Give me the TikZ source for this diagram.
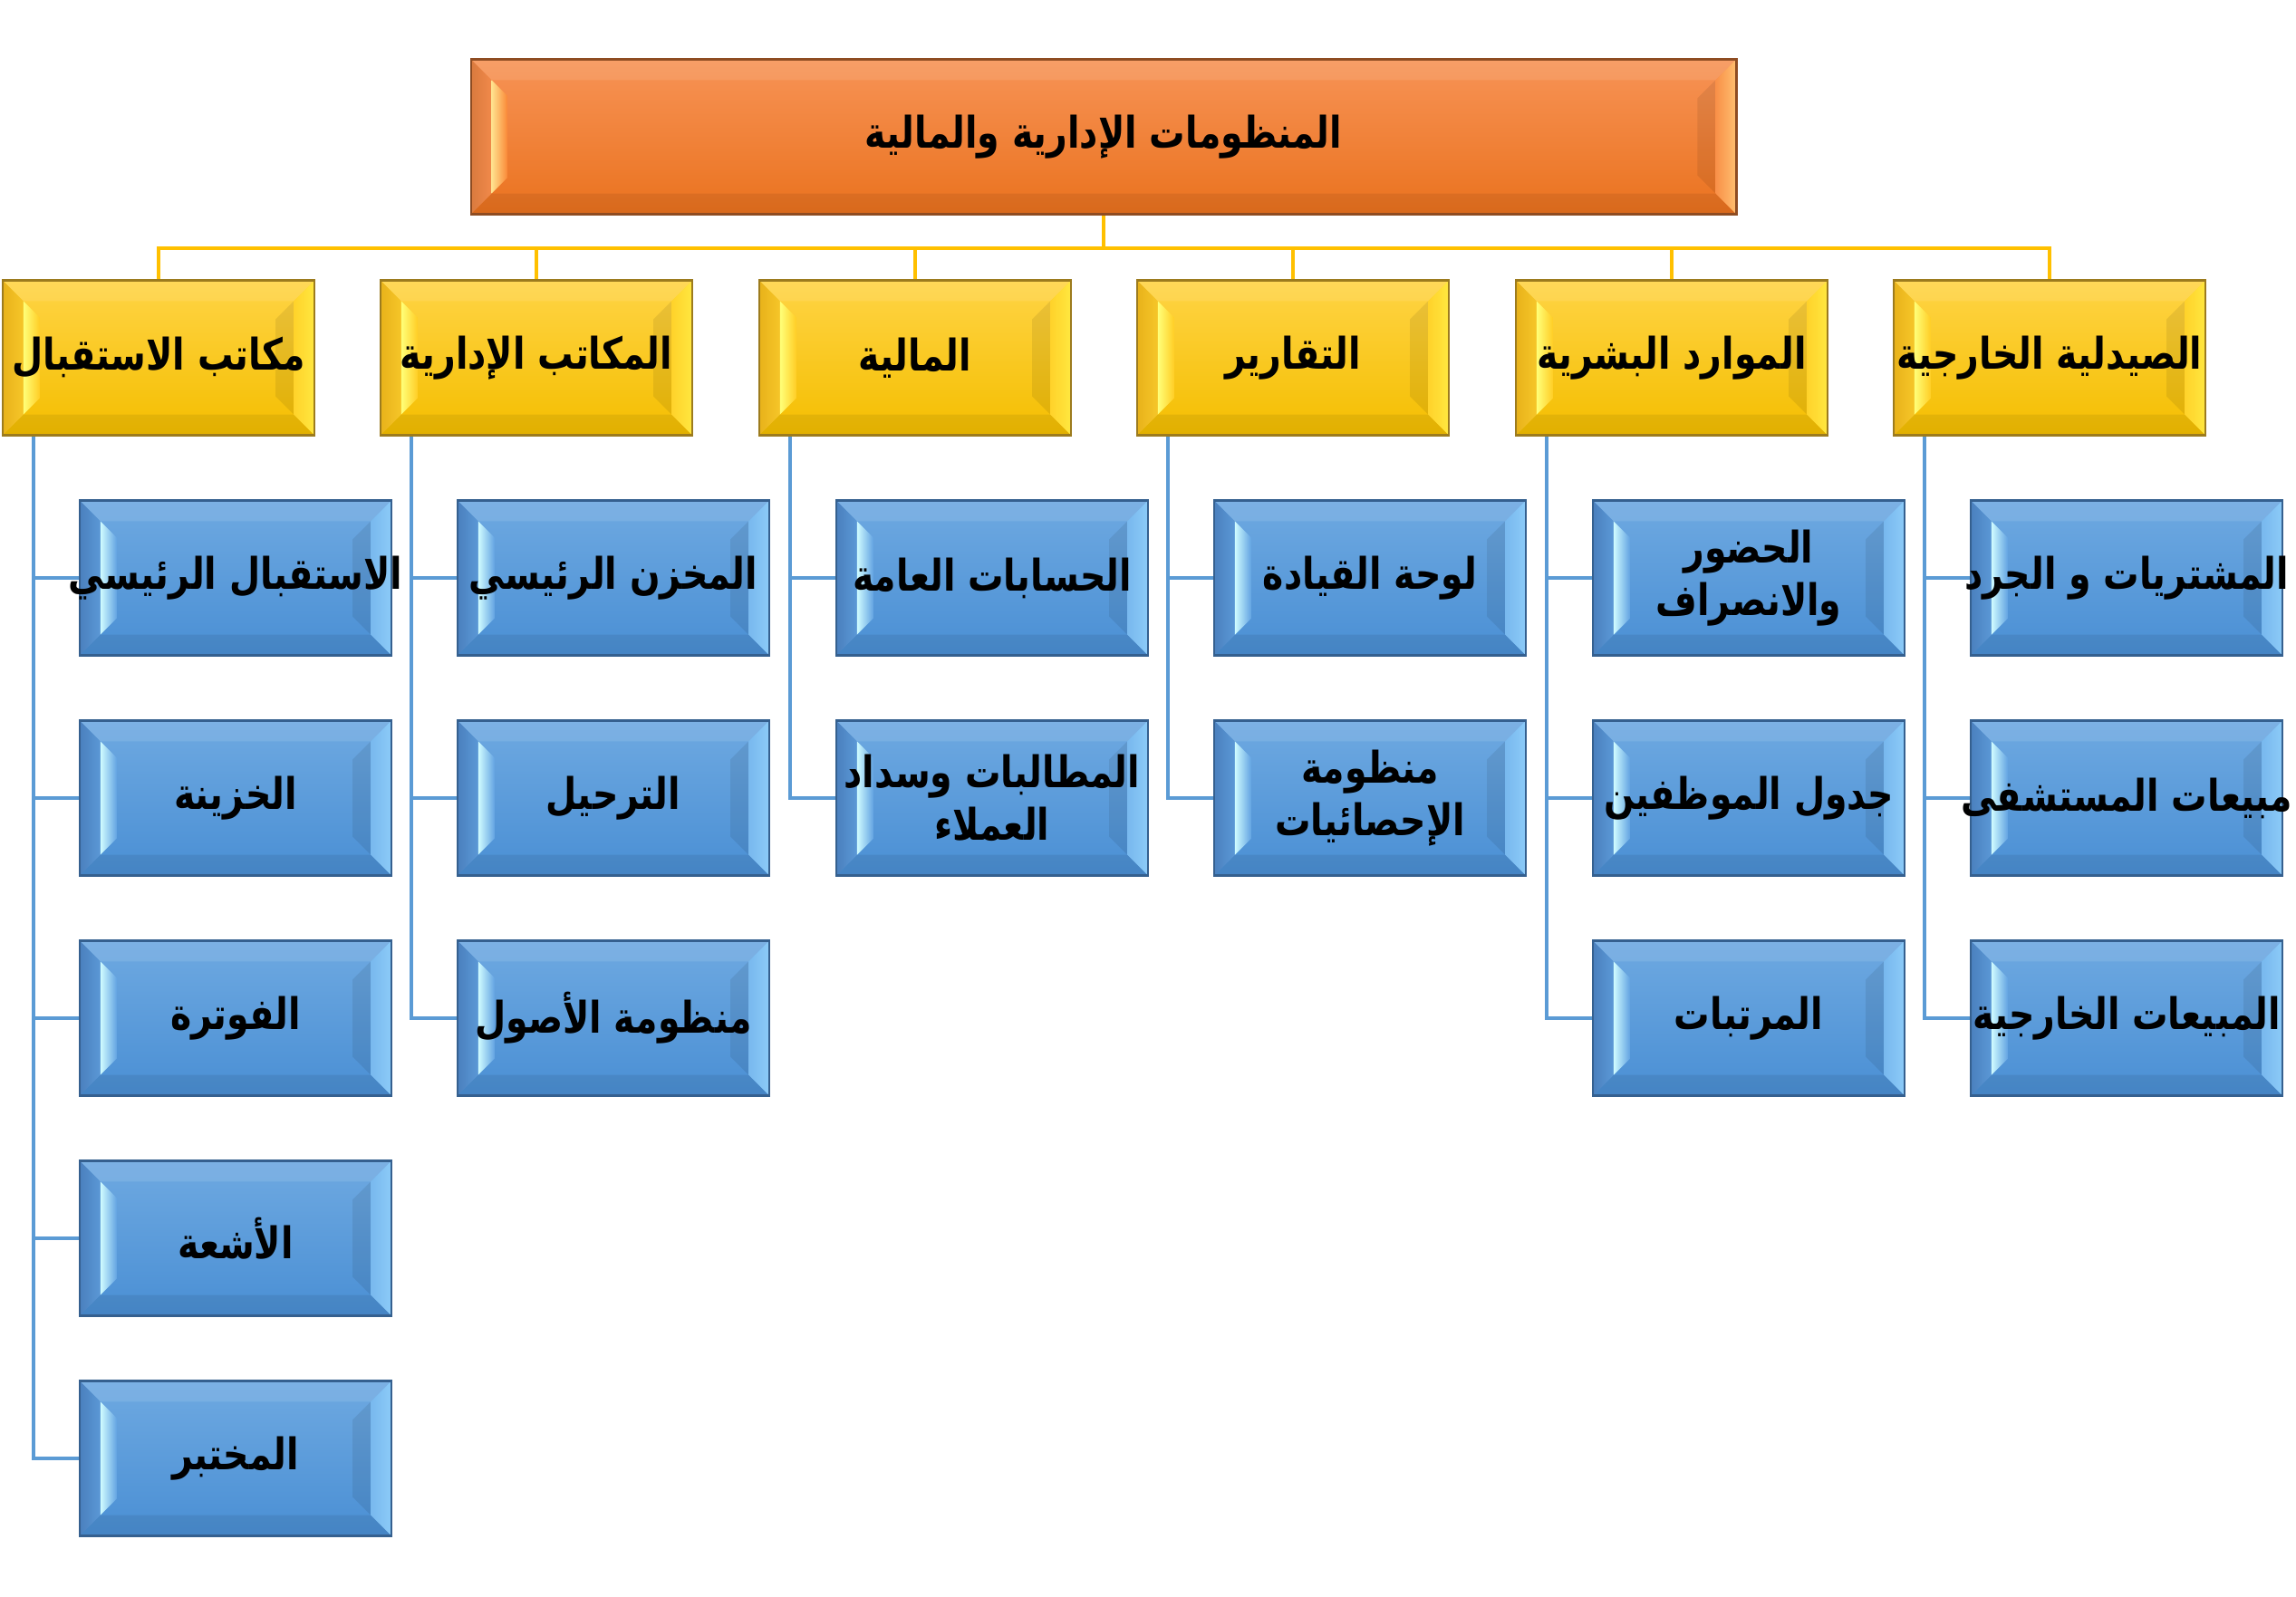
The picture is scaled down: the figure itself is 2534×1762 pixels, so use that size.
\documentclass[tikz,border=0pt]{standalone}
\usepackage{fontspec}
\usetikzlibrary{calc}
\TeXXeTstate=1
\newfontfamily\arabicfont[Script=Arabic]{DejaVu Sans}
\pgfdeclarelayer{bg}
\pgfsetlayers{bg,main}

% blue
\definecolor{bluetop}{HTML}{6EA9E1}
\definecolor{bluebot}{HTML}{4A8FD4}
\definecolor{bluelpa}{HTML}{4A80BE}
\definecolor{bluelpb}{HTML}{5B98D6}
\definecolor{bluestrip}{HTML}{CFFBFF}
\definecolor{bluemid}{HTML}{62A3E2}
\definecolor{bluera}{HTML}{78B8EE}
\definecolor{bluerb}{HTML}{DDFFFF}
\definecolor{bluerc}{HTML}{8CCBF8}
\definecolor{blueborder}{HTML}{35608F}
% yellow
\definecolor{yelltop}{HTML}{FFD445}
\definecolor{yellbot}{HTML}{F4BE00}
\definecolor{yelllpa}{HTML}{E8B21A}
\definecolor{yelllpb}{HTML}{F6C629}
\definecolor{yellstrip}{HTML}{FFFF78}
\definecolor{yellmid}{HTML}{FFCD25}
\definecolor{yellra}{HTML}{FFD22A}
\definecolor{yellrb}{HTML}{FFFF66}
\definecolor{yellrc}{HTML}{FFE840}
\definecolor{yellborder}{HTML}{9C7B1E}
% orange
\definecolor{orantop}{HTML}{F79356}
\definecolor{oranbot}{HTML}{EA721E}
\definecolor{oranlpa}{HTML}{DA7A3E}
\definecolor{oranlpb}{HTML}{F0894A}
\definecolor{oranstrip}{HTML}{FFE28E}
\definecolor{oranmid}{HTML}{FA8534}
\definecolor{oranra}{HTML}{F99048}
\definecolor{oranrb}{HTML}{FFF6B0}
\definecolor{oranrc}{HTML}{FFC070}
\definecolor{oranborder}{HTML}{8E4C22}
% connectors
\definecolor{busyellow}{HTML}{FFC000}
\definecolor{linkblue}{HTML}{5B9BD5}

\newcommand\bevelpic[1]{%
  \path (path picture bounding box.north west) coordinate (pNW)
        (path picture bounding box.south east) coordinate (pSE);
  \path (pNW-|pSE) coordinate (pNE) (pNW|-pSE) coordinate (pSW);
  \shade[top color=#1top, bottom color=#1bot] (pNW) rectangle (pSE);
  \fill[white,opacity=.10] (pNW) -- (pNE) -- ($(pNE)+(-23,23)$) -- ($(pNW)+(23,23)$) -- cycle;
  \fill[black,opacity=.07] (pSW) -- (pSE) -- ($(pSE)+(-23,-23)$) -- ($(pSW)+(23,-23)$) -- cycle;
  \shade[left color=#1lpa, right color=#1lpb] (pNW) -- ($(pNW)+(23,23)$) -- ($(pSW)+(23,-23)$) -- (pSW) -- cycle;
  \shade[left color=#1strip, right color=#1mid] ($(pNW)+(23,23)$) -- ($(pNW)+(41,41)$) -- ($(pSW)+(41,-41)$) -- ($(pSW)+(23,-23)$) -- cycle;
  \fill[black,opacity=.08] ($(pNE)+(-23,23)$) -- ($(pNE)+(-43,43)$) -- ($(pSE)+(-43,-43)$) -- ($(pSE)+(-23,-23)$) -- cycle;
  \shade[left color=#1ra, middle color=#1rb, right color=#1rc] ($(pNE)+(-23,23)$) -- (pNE) -- (pSE) -- ($(pSE)+(-23,-23)$) -- cycle;
}
% one line of right-to-left text that does not widen its box
\newcommand\rl[1]{\makebox[0pt]{\scalebox{1}[1.22]{\beginR #1\endR}}}

\tikzset{
  box/.style={line width=0.022cm, minimum height=1.71cm, inner sep=0pt,
    align=center, text=black,
    font=\arabicfont\bfseries\fontsize{11.2}{16.5}\selectfont},
  bluebox/.style={box, draw=blueborder, minimum width=3.44cm, path picture={\bevelpic{blue}}},
  yellbox/.style={box, draw=yellborder, minimum width=3.44cm, path picture={\bevelpic{yell}}},
  oranbox/.style={box, draw=oranborder, minimum width=13.96cm, path picture={\bevelpic{oran}}},
  busline/.style={draw=busyellow, line width=0.042cm},
  linkline/.style={draw=linkblue, line width=0.048cm},
}

\begin{document}
\begin{tikzpicture}[x=0.01cm, y=-0.01cm]
\useasboundingbox (0,0) rectangle (2534,1762);

\node[oranbox] (top) at (1218,151) {\rl{المنظومات الإدارية والمالية}};

\node[yellbox] (y1) at (175,395)  {\rl{مكاتب الاستقبال}};
\node[yellbox] (y2) at (592,395)  {\rl{المكاتب الإدارية}};
\node[yellbox] (y3) at (1010,395) {\rl{المالية}};
\node[yellbox] (y4) at (1427,395) {\rl{التقارير}};
\node[yellbox] (y5) at (1845,395) {\rl{الموارد البشرية}};
\node[yellbox] (y6) at (2262,395) {\rl{الصيدلية الخارجية}};

\node[bluebox] (a1) at (260,638)  {\rl{الاستقبال الرئيسي}};
\node[bluebox] (a2) at (260,881)  {\rl{الخزينة}};
\node[bluebox] (a3) at (260,1124) {\rl{الفوترة}};
\node[bluebox] (a4) at (260,1367) {\rl{الأشعة}};
\node[bluebox] (a5) at (260,1610) {\rl{المختبر}};

\node[bluebox] (b1) at (677,638)  {\rl{المخزن الرئيسي}};
\node[bluebox] (b2) at (677,881)  {\rl{الترحيل}};
\node[bluebox] (b3) at (677,1124) {\rl{منظومة الأصول}};

\node[bluebox] (c1) at (1095,638) {\rl{الحسابات العامة}};
\node[bluebox] (c2) at (1095,881) {\rl{المطالبات وسداد}\\\rl{العملاء}};

\node[bluebox] (d1) at (1512,638) {\rl{لوحة القيادة}};
\node[bluebox] (d2) at (1512,881) {\rl{منظومة}\\\rl{الإحصائيات}};

\node[bluebox] (e1) at (1930,638)  {\rl{الحضور}\\\rl{والانصراف}};
\node[bluebox] (e2) at (1930,881)  {\rl{جدول الموظفين}};
\node[bluebox] (e3) at (1930,1124) {\rl{المرتبات}};

\node[bluebox] (f1) at (2347,638)  {\rl{المشتريات و الجرد}};
\node[bluebox] (f2) at (2347,881)  {\rl{مبيعات المستشفى}};
\node[bluebox] (f3) at (2347,1124) {\rl{المبيعات الخارجية}};

\begin{pgfonlayer}{bg}
\fill[white] (0,0) rectangle (2534,1762);
% yellow bus
\coordinate (bus) at (1218,274);
\draw[busline] (top.south) -- (bus);
\foreach \y in {y1,y2,y3,y4,y5,y6} \draw[busline] (bus) -| (\y.north);
% blue links
\foreach \p/\c in {y1/a1,y1/a2,y1/a3,y1/a4,y1/a5,
                   y2/b1,y2/b2,y2/b3,
                   y3/c1,y3/c2,
                   y4/d1,y4/d2,
                   y5/e1,y5/e2,y5/e3,
                   y6/f1,y6/f2,y6/f3}
  \draw[linkline] ([xshift=-1.38cm]\p.south) |- (\c.west);
\end{pgfonlayer}
\end{tikzpicture}
\end{document}
